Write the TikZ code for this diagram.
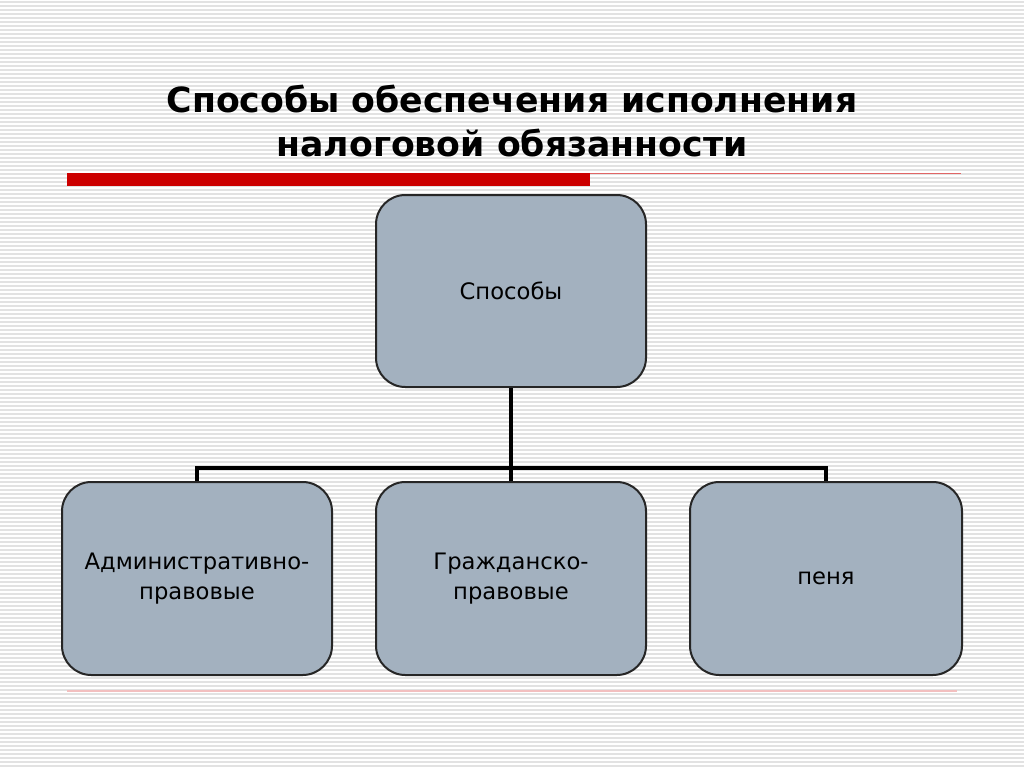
\documentclass[tikz,border=0pt]{standalone}
\usepackage{fontspec}
\setmainfont{DejaVu Sans}
\begin{document}
\begin{tikzpicture}[x=0.75pt,y=-0.75pt,
  box/.style={draw=black!85,line width=1.5pt,fill=boxc,rounded corners=22pt,inner sep=0pt,align=center,font=\fontsize{17}{22}\selectfont},
  conn/.style={line width=3pt,black}]
\definecolor{boxc}{HTML}{A3B1BF}
\definecolor{stripe}{HTML}{E2E2E2}
\definecolor{redc}{HTML}{CC0000}
\fill[white] (0,0) rectangle (1024,767);
\useasboundingbox (0,0) rectangle (1024,767);
\foreach \i in {0,...,191} {\fill[stripe] (0,\i*4+1) rectangle (1024,\i*4+2.6);}
\fill[redc] (67,173) rectangle (590,186);
\draw[color=redc!60!white,line width=1.2pt] (590,173.5) -- (961,173.5);
\draw[color=redc!25!white,line width=1.5pt] (67,691) -- (957,691);
\node[font=\bfseries\fontsize{26}{33}\selectfont,align=center] (title) at (512,121) {Способы обеспечения исполнения\\налоговой обязанности};
\node[box,minimum width=270*0.75pt,minimum height=192*0.75pt] (top) at (511,291) {Способы};
\node[box,minimum width=270*0.75pt,minimum height=193*0.75pt] (a) at (197,578.5) {Административно-\\правовые};
\node[box,minimum width=270*0.75pt,minimum height=193*0.75pt] (b) at (511,578.5) {Гражданско-\\правовые};
\node[box,minimum width=272*0.75pt,minimum height=193*0.75pt] (c) at (826,578.5) {пеня};
\coordinate (j) at (511,468);
\draw[conn] (top.south) -- (j);
\draw[conn] (a.north) |- (j) -| (c.north);
\draw[conn] (j) -- (b.north);
\end{tikzpicture}
\end{document}
